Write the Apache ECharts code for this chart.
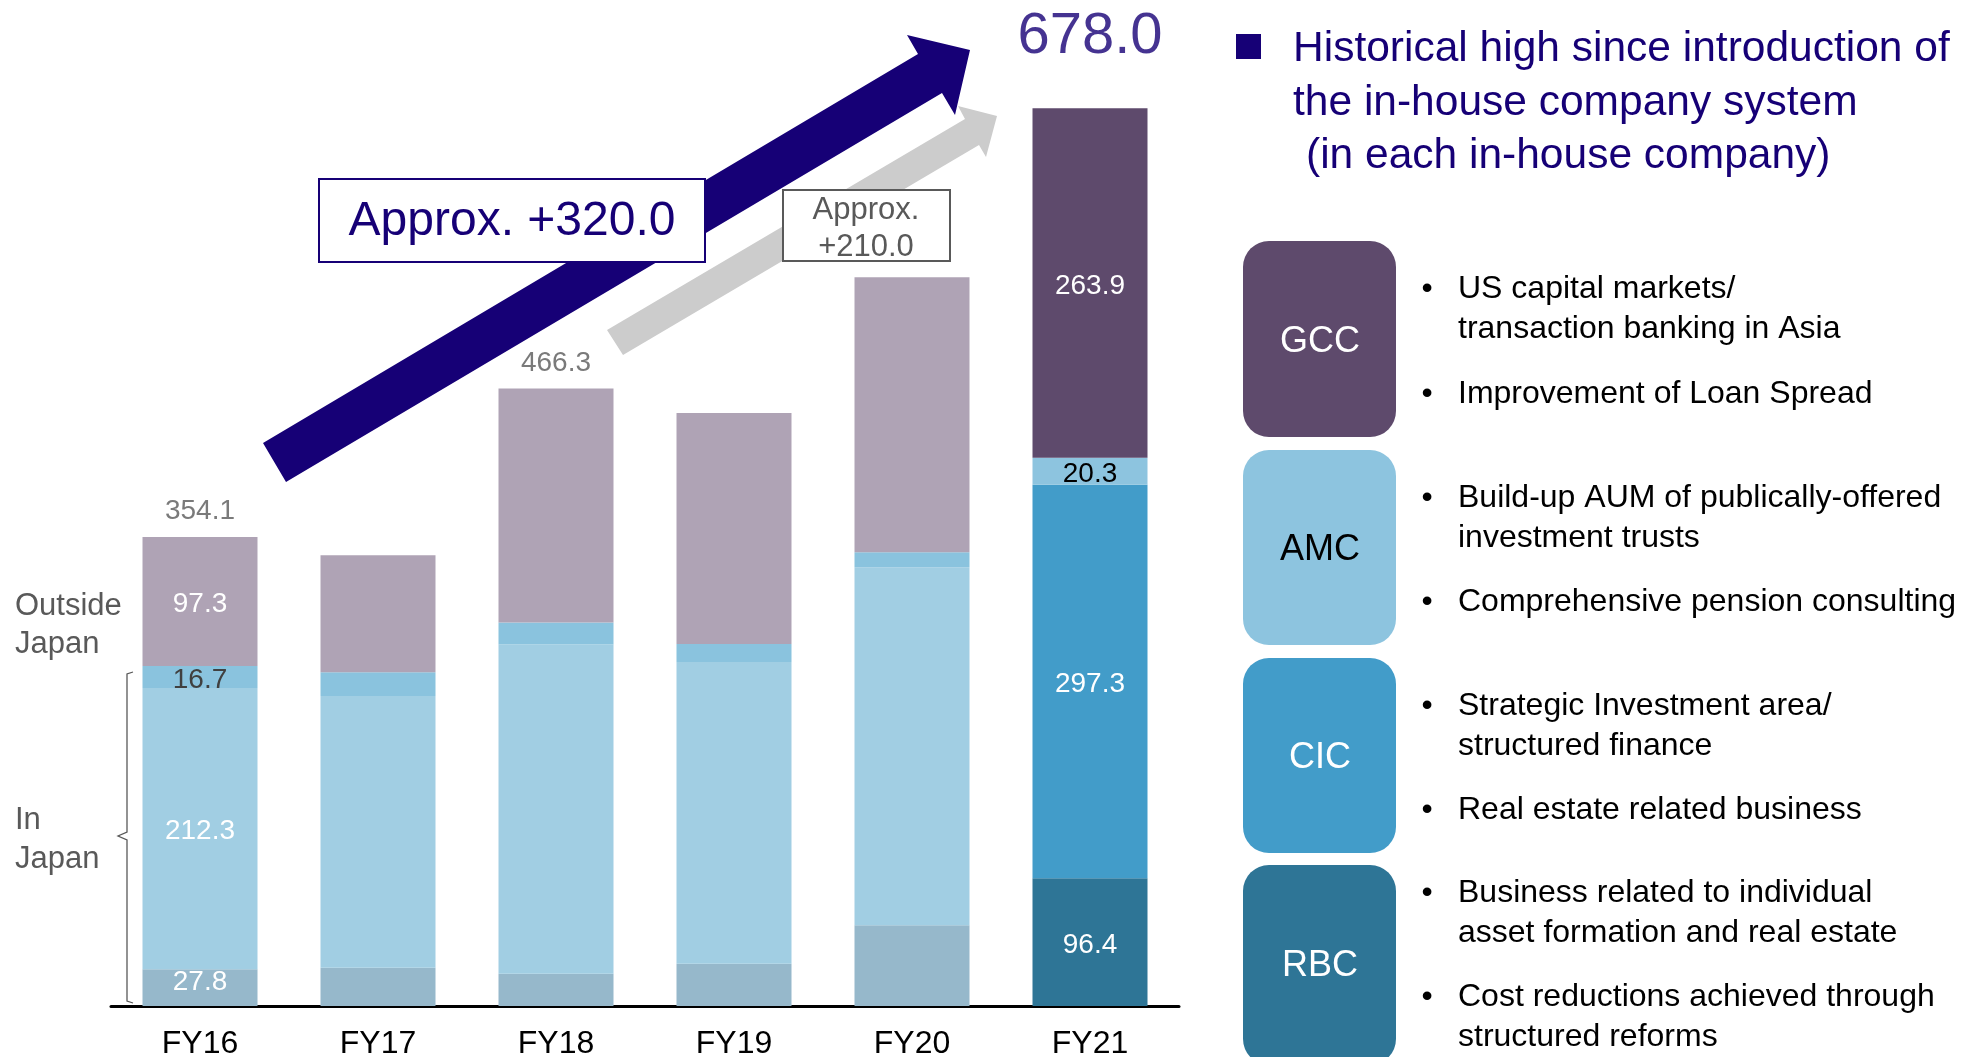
<!DOCTYPE html>
<html><head><meta charset="utf-8">
<script src="https://cdn.jsdelivr.net/npm/echarts@6/dist/echarts.min.js"></script>
<style>html,body{margin:0;padding:0;background:#fff}#c{width:1961px;height:1057px}</style>
</head><body><div id="c"></div>
<script>
// ---- data ----
const categories = ['FY16', 'FY17', 'FY18', 'FY19', 'FY20', 'FY21'];
const rbc = [27.8, 28.9, 24.4, 31.9, 60.9, 96.4];
const cic = [212.3, 205.1, 248.6, 227.8, 270.5, 297.3];
const amc = [16.7, 18.1, 16.6, 13.6, 11.3, 20.3];
const gcc = [97.3, 88.3, 176.7, 174.4, 207.6, 263.9];
const totals = [354.1, null, 466.3, null, null, 678.0];
const labelledIdx = [0, 5];

// ---- styles ----
const FONT = "'Liberation Sans', Arial, sans-serif";
const NAVY = '#160076';
const GRAY = '#595959';
const DY = 3; // visual text centring nudge
const pastColors = { rbc: '#96B8CB', cic: '#A1CEE3', amc: '#8AC3DE', gcc: '#AFA3B5' };
const nowColors  = { rbc: '#2E7596', cic: '#429CC9', amc: '#8DC4DF', gcc: '#5E4A6C' };
const labelColors = { rbc: ['#fff', '#fff'], cic: ['#fff', '#fff'], amc: ['#404040', '#000'], gcc: ['#fff', '#fff'] };

function buildSeries(key, name, values) {
  return {
    type: 'bar', name: name, stack: 'total', barWidth: 115,
    silent: true,
    data: values.map((v, i) => {
      const last = i === values.length - 1;
      const li = labelledIdx.indexOf(i);
      const item = { value: v, itemStyle: { color: last ? nowColors[key] : pastColors[key] } };
      item.label = li >= 0 ? {
        show: true, position: 'inside', color: labelColors[key][li],
        fontSize: 28, lineHeight: 28, fontFamily: FONT,
        formatter: (p) => p.value.toFixed(1),
        offset: (key === 'rbc' && i === 0) ? [0, -5] : [0, DY]
      } : { show: false };
      return item;
    })
  };
}

const totalSeries = {
  type: 'scatter', symbolSize: 1, silent: true,
  itemStyle: { color: 'rgba(0,0,0,0)' },
  data: totals.map((v, i) => {
    if (v == null) return '-';
    const big = i === totals.length - 1;
    return {
      value: v,
      label: {
        show: true, position: 'top',
        distance: big ? 42 : 11,
        color: big ? NAVY : GRAY,
        fontSize: big ? 58 : 28, lineHeight: big ? 58 : 28, fontFamily: FONT,
        formatter: (p) => p.value.toFixed(1)
      }
    };
  })
};

// ---- annotation graphics ----
function txt(text, x, y, size, color, align) {
  return { type: 'text', x: x, y: y + DY, z: 100,
    style: { text: text, fill: color, font: size + 'px ' + FONT, align: align || 'left', verticalAlign: 'middle' } };
}
const graphics = [];
// gray arrow
graphics.push({ type: 'polygon', z: 10, shape: { points: [[607,330],[965,119],[958,106],[997,116],[986,157],[979,145],[623,355]] }, style: { fill: '#CCCCCC' } });
// navy arrow
graphics.push({ type: 'polygon', z: 11, shape: { points: [[263,443],[918,54],[907,35],[970,50],[955,115],[942,93],[286,482]] }, style: { fill: NAVY } });
// boxes
graphics.push({ type: 'rect', z: 20, shape: { x: 319, y: 179, width: 386, height: 83 }, style: { fill: '#fff', stroke: NAVY, lineWidth: 2 } });
graphics.push(txt('Approx. +320.0', 512, 219, 48, NAVY, 'center'));
graphics.push({ type: 'rect', z: 20, shape: { x: 783, y: 190, width: 167, height: 71 }, style: { fill: '#fff', stroke: GRAY, lineWidth: 2 } });
graphics.push(txt('Approx.', 866, 207, 31, GRAY, 'center'));
graphics.push(txt('+210.0', 866, 244, 31, GRAY, 'center'));
// side labels
graphics.push(txt('Outside', 15, 603, 31, GRAY));
graphics.push(txt('Japan', 15, 641, 31, GRAY));
graphics.push(txt('In', 15, 817, 31, GRAY));
graphics.push(txt('Japan', 15, 856, 31, GRAY));
graphics.push({ type: 'polyline', z: 30, shape: { points: [[133,672],[127,674],[127,832],[118,836],[127,840],[127,1001],[133,1003]] }, style: { stroke: GRAY, lineWidth: 1.3, fill: null } });
// title
graphics.push({ type: 'rect', z: 20, shape: { x: 1236, y: 34, width: 25, height: 25 }, style: { fill: NAVY } });
graphics.push(txt('Historical high since introduction of', 1293, 46, 42.5, NAVY));
graphics.push(txt('the in-house company system', 1293, 100, 42.5, NAVY));
graphics.push(txt('(in each in-house company)', 1306, 153, 42.5, NAVY));
// company boxes
const boxes = [
  ['GCC', 241, 196, nowColors.gcc, '#fff'],
  ['AMC', 450, 195, nowColors.amc, '#000'],
  ['CIC', 658, 195, nowColors.cic, '#fff'],
  ['RBC', 865, 200, nowColors.rbc, '#fff']
];
boxes.forEach(b => {
  graphics.push({ type: 'rect', z: 20, shape: { x: 1243, y: b[1], width: 153, height: b[2], r: 26 }, style: { fill: b[3] } });
  graphics.push(txt(b[0], 1320, b[0] === 'RBC' ? 963 : b[1] + b[2] / 2, 36, b[4], 'center'));
});
// bullets
const bullets = [
  [['US capital markets/', 'transaction banking in Asia'], 286],
  [['Improvement of Loan Spread'], 391],
  [['Build-up AUM of publically-offered', 'investment trusts'], 495],
  [['Comprehensive pension consulting'], 599],
  [['Strategic Investment area/', 'structured finance'], 703],
  [['Real estate related business'], 807],
  [['Business related to individual', 'asset formation and real estate'], 890],
  [['Cost reductions achieved through', 'structured reforms'], 994]
];
bullets.forEach(b => {
  graphics.push(txt('•', 1427, b[1], 32, '#000', 'center'));
  b[0].forEach((line, k) => graphics.push(txt(line, 1458, b[1] + k * 40, 32, '#000')));
});

const chart = echarts.init(document.getElementById('c'), null, { renderer: 'canvas' });
chart.setOption({
  animation: false,
  backgroundColor: '#fff',
  grid: { left: 111, right: 782, top: 79, bottom: 51, containLabel: false, outerBoundsMode: 'none' },
  xAxis: {
    type: 'category', data: categories,
    axisLine: { lineStyle: { color: '#000', width: 3 } },
    axisTick: { show: false },
    axisLabel: { color: '#000', fontSize: 32, lineHeight: 32, fontFamily: FONT, margin: 22 }
  },
  yAxis: { type: 'value', min: 0, max: 700, show: false, splitLine: { show: false } },
  series: [
    buildSeries('rbc', 'RBC', rbc),
    buildSeries('cic', 'CIC', cic),
    buildSeries('amc', 'AMC', amc),
    buildSeries('gcc', 'GCC', gcc),
    totalSeries
  ],
  graphic: graphics
});
</script></body></html>
